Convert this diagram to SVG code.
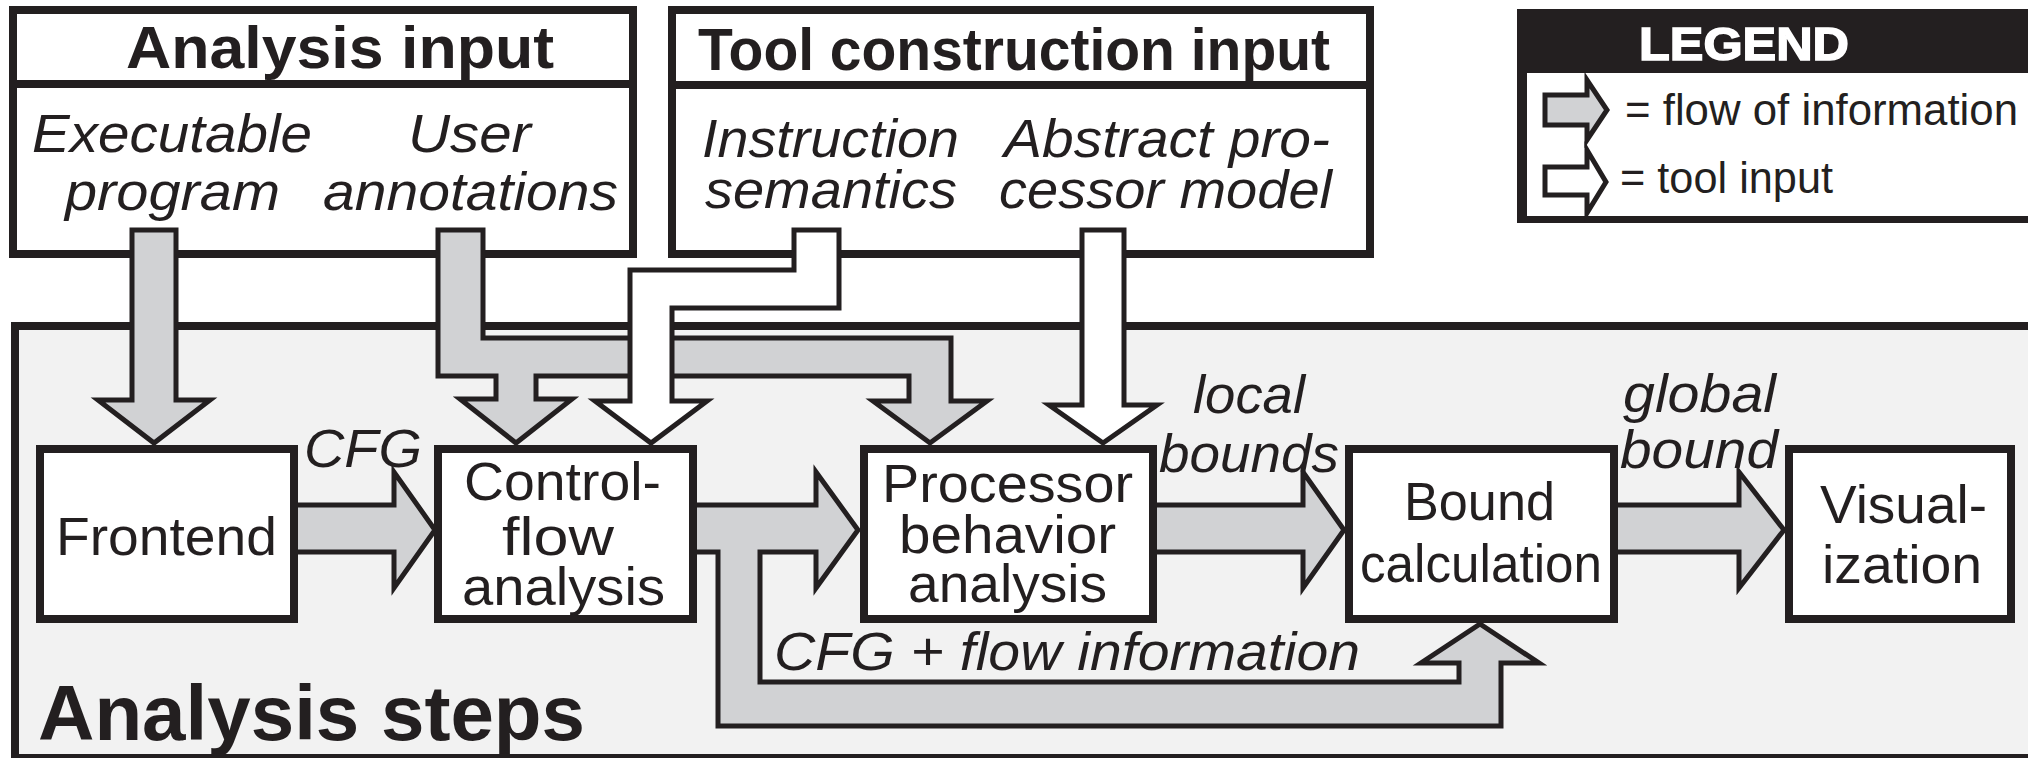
<svg xmlns="http://www.w3.org/2000/svg" width="2028" height="758" viewBox="0 0 2028 758">
<style>
  .box { fill: #ffffff; stroke: #231f20; stroke-width: 8; }
  .flow { fill: #d1d2d4; stroke: #231f20; stroke-width: 5; stroke-linejoin: miter; }
  .tool { fill: #ffffff; stroke: #231f20; stroke-width: 5; stroke-linejoin: miter; }
  .title { font-family: "Liberation Sans", Arial, sans-serif; font-weight: bold; font-size: 60px; fill: #231f20; }
  .ital { font-family: "Liberation Sans", Arial, sans-serif; font-style: italic; font-size: 54px; fill: #231f20; }
  .lbl { font-family: "Liberation Sans", Arial, sans-serif; font-size: 54px; fill: #231f20; }
  .leg { font-family: "Liberation Sans", Arial, sans-serif; font-size: 44px; fill: #231f20; }
</style>
<rect x="0" y="0" width="2028" height="758" fill="#ffffff"/>

<g id="analysis-steps-frame">
  <rect x="15" y="326" width="2100" height="432" fill="#f2f2f2" stroke="#231f20" stroke-width="8"/>
  <text x="38" y="740" class="title" style="font-size:77px" textLength="547" lengthAdjust="spacingAndGlyphs">Analysis steps</text>
</g>

<g id="analysis-input">
  <rect x="13" y="10" width="620" height="244" class="box"/>
  <line x1="13" y1="84" x2="633" y2="84" stroke="#231f20" stroke-width="8"/>
  <text x="126" y="68" class="title" textLength="428" lengthAdjust="spacingAndGlyphs">Analysis input</text>
  <text x="32" y="152" class="ital" textLength="280" lengthAdjust="spacingAndGlyphs">Executable</text>
  <text x="65" y="210" class="ital" textLength="215" lengthAdjust="spacingAndGlyphs">program</text>
  <text x="408" y="152" class="ital" textLength="123" lengthAdjust="spacingAndGlyphs">User</text>
  <text x="323" y="210" class="ital" textLength="295" lengthAdjust="spacingAndGlyphs">annotations</text>
</g>

<g id="tool-construction-input">
  <rect x="672" y="10" width="698" height="244" class="box"/>
  <line x1="672" y1="85" x2="1370" y2="85" stroke="#231f20" stroke-width="8"/>
  <text x="698" y="70" class="title" textLength="632" lengthAdjust="spacingAndGlyphs">Tool construction input</text>
  <text x="702" y="157" class="ital" textLength="257" lengthAdjust="spacingAndGlyphs">Instruction</text>
  <text x="705" y="208" class="ital" textLength="252" lengthAdjust="spacingAndGlyphs">semantics</text>
  <text x="1004" y="157" class="ital" textLength="326" lengthAdjust="spacingAndGlyphs">Abstract pro-</text>
  <text x="999" y="208" class="ital" textLength="333" lengthAdjust="spacingAndGlyphs">cessor model</text>
</g>

<g id="legend">
  <rect x="1517" y="9" width="600" height="214" fill="#231f20"/>
  <rect x="1527" y="73" width="600" height="143" fill="#ffffff"/>
  <text x="1639" y="60" class="title" style="font-size:46px;fill:#ffffff;stroke:#ffffff;stroke-width:1.5" textLength="210" lengthAdjust="spacingAndGlyphs">LEGEND</text>
  <path class="flow" d="M1545,95 L1587,95 L1587,80 L1607,110 L1587,140 L1587,125 L1545,125 Z"/>
  <text x="1625" y="125" class="leg" textLength="393" lengthAdjust="spacingAndGlyphs">= flow of information</text>
  <path class="tool" d="M1545,167 L1587,167 L1587,150 L1606,182 L1587,213 L1587,195 L1545,195 Z"/>
  <text x="1620" y="193" class="leg" textLength="213" lengthAdjust="spacingAndGlyphs">= tool input</text>
</g>

<g id="connectors">
  <!-- Executable program -> Frontend -->
  <path class="flow" d="M132,230 L176,230 L176,400 L210,400 L154,443 L98,400 L132,400 Z"/>
  <!-- User annotations -> Control-flow analysis & Processor behavior analysis -->
  <path class="flow" d="M438,230 L483,230 L483,338 L951,338 L951,401 L987,401 L930,443 L873,401 L909,401 L909,376 L536,376 L536,399 L572,399 L516,443 L460,399 L496,399 L496,376 L438,376 Z"/>
  <!-- Instruction semantics -> Control-flow analysis -->
  <path class="tool" d="M794,230 L839,230 L839,308 L672,308 L672,401 L707,401 L651,443 L595,401 L630,401 L630,270 L794,270 Z"/>
  <!-- Abstract processor model -> Processor behavior analysis -->
  <path class="tool" d="M1082,230 L1124,230 L1124,405 L1157,405 L1103,443 L1049,405 L1082,405 Z"/>
  <!-- Frontend -> Control-flow (CFG) -->
  <path class="flow" d="M290,505 L394,505 L394,472 L435,530 L394,588 L394,552 L290,552 Z"/>
  <text x="304" y="467" class="ital" textLength="118" lengthAdjust="spacingAndGlyphs">CFG</text>
  <!-- Control-flow -> Processor behavior, and CFG + flow information -> Bound calculation -->
  <path class="flow" d="M690,505 L816,505 L816,472 L858,530 L816,588 L816,552 L760,552 L760,682 L1459,682 L1459,663 L1421,663 L1480,624 L1539,663 L1501,663 L1501,726 L718,726 L718,552 L690,552 Z"/>
  <text x="774" y="670" class="ital" textLength="586" lengthAdjust="spacingAndGlyphs">CFG + flow information</text>
  <!-- Processor behavior -> Bound calculation (local bounds) -->
  <path class="flow" d="M1150,505 L1303,505 L1303,472 L1344,530 L1303,588 L1303,552 L1150,552 Z"/>
  <text x="1193" y="413" class="ital" textLength="112" lengthAdjust="spacingAndGlyphs">local</text>
  <text x="1159" y="472" class="ital" textLength="180" lengthAdjust="spacingAndGlyphs">bounds</text>
  <!-- Bound calculation -> Visualization (global bound) -->
  <path class="flow" d="M1612,505 L1739,505 L1739,472 L1784,530 L1739,588 L1739,552 L1612,552 Z"/>
  <text x="1623" y="412" class="ital" textLength="153" lengthAdjust="spacingAndGlyphs">global</text>
  <text x="1620" y="468" class="ital" textLength="158" lengthAdjust="spacingAndGlyphs">bound</text>
</g>

<g id="frontend">
  <rect x="40" y="449" width="254" height="170" class="box"/>
  <text x="56" y="555" class="lbl" textLength="221" lengthAdjust="spacingAndGlyphs">Frontend</text>
</g>

<g id="control-flow-analysis">
  <rect x="438" y="449" width="255" height="170" class="box"/>
  <text x="464" y="500" class="lbl" textLength="197" lengthAdjust="spacingAndGlyphs">Control-</text>
  <text x="502" y="555" class="lbl" textLength="112" lengthAdjust="spacingAndGlyphs">flow</text>
  <text x="462" y="605" class="lbl" textLength="203" lengthAdjust="spacingAndGlyphs">analysis</text>
</g>

<g id="processor-behavior-analysis">
  <rect x="864" y="449" width="289" height="170" class="box"/>
  <text x="882" y="502" class="lbl" textLength="251" lengthAdjust="spacingAndGlyphs">Processor</text>
  <text x="899" y="553" class="lbl" textLength="217" lengthAdjust="spacingAndGlyphs">behavior</text>
  <text x="908" y="602" class="lbl" textLength="199" lengthAdjust="spacingAndGlyphs">analysis</text>
</g>

<g id="bound-calculation">
  <rect x="1349" y="449" width="265" height="170" class="box"/>
  <text x="1404" y="520" class="lbl" textLength="151" lengthAdjust="spacingAndGlyphs">Bound</text>
  <text x="1360" y="582" class="lbl" textLength="242" lengthAdjust="spacingAndGlyphs">calculation</text>
</g>

<g id="visualization">
  <rect x="1789" y="449" width="222" height="170" class="box"/>
  <text x="1820" y="523" class="lbl" textLength="167" lengthAdjust="spacingAndGlyphs">Visual-</text>
  <text x="1822" y="583" class="lbl" textLength="160" lengthAdjust="spacingAndGlyphs">ization</text>
</g>
</svg>
